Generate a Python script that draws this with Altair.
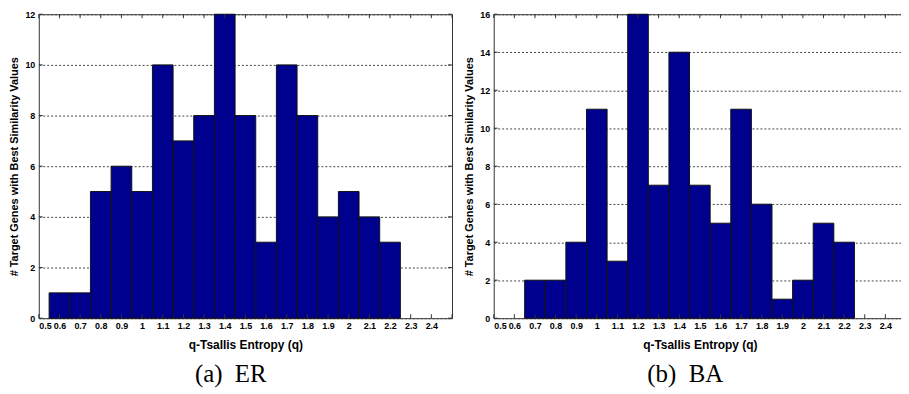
import altair as alt
import pandas as pd

# bin centres of the histogram (bin width 0.1)
centers = [0.6, 0.7, 0.8, 0.9, 1.0, 1.1, 1.2, 1.3, 1.4, 1.5, 1.6, 1.7, 1.8, 1.9, 2.0, 2.1, 2.2]
er_counts = [1, 1, 5, 6, 5, 10, 7, 8, 12, 8, 3, 10, 8, 4, 5, 4, 3]
ba_counts = [0, 2, 2, 4, 11, 3, 16, 7, 14, 7, 5, 11, 6, 1, 2, 5, 4]

x_tick_values = [round(0.5 + 0.1 * i, 1) for i in range(21)]       # 0.5 .. 2.5
x_label_values = [round(0.5 + 0.1 * i, 1) for i in range(20)]      # 0.5 .. 2.4

BIN_W = 0.1
H = 306
FILL = "#00008F"
LBL_FONT = "Liberation Sans"


def panel(counts, ymax, caption, width):
    df = pd.DataFrame({"center": centers, "count": counts})
    df = df[df["count"] > 0].copy()
    df["start"] = df["center"] - BIN_W / 2
    df["end"] = df["center"] + BIN_W / 2

    xscale = alt.Scale(domain=[0.5, 2.5], nice=False, zero=False)
    yscale = alt.Scale(domain=[0, ymax], nice=False)
    y_vals = list(range(0, ymax + 1, 2))

    xaxis = alt.Axis(values=x_label_values, format="~g", title="q-Tsallis Entropy (q)",
                     ticks=False, domain=False, grid=False, labelPadding=3,
                     labelOverlap=False, labelBound=False, titlePadding=10,
                     labelFontSize=9, labelFont=LBL_FONT, labelFontWeight="bold",
                     titleFont=LBL_FONT, titleFontSize=12, titleFontWeight="bold",
                     labelColor="black", titleColor="black")
    yaxis = alt.Axis(values=y_vals, title="# Target Genes with Best Similarity Values",
                     ticks=False, domain=False, grid=True, gridDash=[2, 2],
                     gridColor="#444444", gridWidth=1, labelPadding=4,
                     labelOverlap=False, titlePadding=5, labelFontSize=9,
                     labelFont=LBL_FONT, labelFontWeight="bold", titleFont=LBL_FONT,
                     titleFontSize=11, titleFontWeight="bold", labelColor="black",
                     titleColor="black")

    bars = alt.Chart(df).mark_rect(
        fill=FILL, stroke="#111111", strokeWidth=1, opacity=1
    ).encode(
        x=alt.X("start:Q", scale=xscale, axis=xaxis),
        x2="end:Q",
        y=alt.Y("count:Q", scale=yscale, axis=yaxis),
        y2=alt.datum(0),
    )

    tdf = pd.DataFrame({"t": x_tick_values})
    bottom_ticks = alt.Chart(tdf).mark_rule(color="#333333", strokeWidth=1).encode(
        x=alt.X("t:Q", scale=xscale, axis=xaxis), y=alt.value(H), y2=alt.value(H - 4))
    top_ticks = alt.Chart(tdf).mark_rule(color="#333333", strokeWidth=1).encode(
        x=alt.X("t:Q", scale=xscale, axis=xaxis), y=alt.value(0), y2=alt.value(4))

    ydf = pd.DataFrame({"t": y_vals})
    left_ticks = alt.Chart(ydf).mark_rule(color="#333333", strokeWidth=1).encode(
        y=alt.Y("t:Q", scale=yscale, axis=yaxis), x=alt.value(0), x2=alt.value(4))
    right_ticks = alt.Chart(ydf).mark_rule(color="#333333", strokeWidth=1).encode(
        y=alt.Y("t:Q", scale=yscale, axis=yaxis), x=alt.value(width), x2=alt.value(width - 4))

    return alt.layer(bars, bottom_ticks, top_ticks, left_ticks, right_ticks).properties(
        width=width, height=H,
        title=alt.TitleParams(caption, orient="bottom", anchor="middle", frame="bounds",
                              font="Liberation Serif", fontSize=25, fontWeight="normal",
                              offset=11, color="black"),
    )


left = panel(er_counts, 12, "(a)\u00a0\u00a0ER", 416)
right = panel(ba_counts, 16, "(b)\u00a0\u00a0BA", 415)

chart = alt.hconcat(left, right, spacing=10).properties(
    padding={"left": 0, "top": 0, "right": -6, "bottom": 0}
).configure(
    background="white",
    view=alt.ViewConfig(stroke="#333333", strokeWidth=1),
)

chart.save("out.html", embed_options={"renderer": "svg", "actions": False})
